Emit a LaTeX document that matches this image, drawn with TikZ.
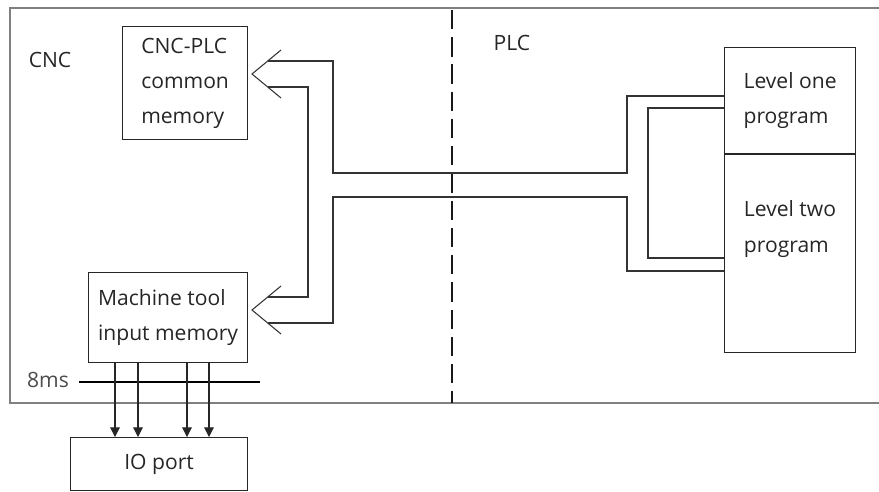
\documentclass[tikz,border=0pt]{standalone}
\usepackage{fontspec}
\setmainfont{Open Sans}
\usetikzlibrary{arrows.meta,calc}
\begin{document}
\begin{tikzpicture}[x=0.02cm, y=-0.02cm,
  box/.style={draw=black!85, line width=0.7pt, align=left, anchor=north west,
              font=\fontsize{12}{20}\selectfont, text=black!85, inner sep=0pt},
  lbl/.style={font=\fontsize{12}{20}\selectfont, text=black!85, inner sep=0pt},
  frame/.style={draw=black!50, line width=0.8pt},
  bus/.style={draw=black!80, line width=0.6pt},
  sig/.style={draw=black!85, line width=0.6pt, -{Triangle[width=5.5pt,length=5.5pt]}},
]
\useasboundingbox (0,0) rectangle (879,491);

% CNC / PLC frame
\draw[frame] (879,8) -- (10,8) -- (10,403) -- (879,403);
\draw[black!90, line width=0.8pt, dash pattern=on 11pt off 4.5pt] (452,10) -- (452,403);
\node[lbl] (cnc) at (50,60) {CNC};
\node[lbl] (plc) at (512,43) {PLC};

\node[box, minimum width=2.5cm, minimum height=2.26cm] (cmem) at (122,26) {CNC-PLC\\common\\memory};
\node[box, minimum width=3.18cm, minimum height=1.8cm] (mtool) at (88,272) {Machine tool\\input memory};
\node[box, minimum width=3.54cm, minimum height=1.06cm, align=center] (io) at (70,437) {IO port};
\node[box, minimum width=2.62cm, minimum height=2.12cm] (lvl1) at (724,47) {Level one\\program};
\node[box, minimum width=2.62cm, minimum height=3.96cm] (lvl2) at (lvl1.south west) {};
\node[lbl, align=left] (lvl2txt) at (790,229) {Level two\\program};

% double-line arrows
\coordinate (tip1) at (252,74);
\coordinate (tip2) at (252,310);
\draw[bus] ($(tip1)+(29,-24)$) -- (tip1) -- ($(tip1)+(29,24)$);
\draw[bus] ($(tip2)+(29,-24)$) -- (tip2) -- ($(tip2)+(29,24)$);
\draw[bus] (268,61) -- (333,61) -- (333,173) -- (627,173) -- (627,96) -- (lvl1.west |- 0,96);
\draw[bus] (268,87) -- (308,87) -- (308,297) -- (268,297);
\draw[bus] (lvl2.west |- 0,271) -- (627,271) -- (627,197) -- (333,197) -- (333,323) -- (268,323);
\draw[bus] (lvl1.west |- 0,108) -- (648,108) -- (648,258) -- (lvl2.west |- 0,258);

% 8ms scan
\node[lbl, text=black!70] (scan) at (48,380) {8ms};
\draw[black, line width=0.6pt] (scan.east) ++(10,2) coordinate (s0) -- (260,382);
\foreach \x in {115,138,187,209}
  \draw[sig] (mtool.south -| \x,0) -- (io.north -| \x,0);
\end{tikzpicture}
\end{document}
